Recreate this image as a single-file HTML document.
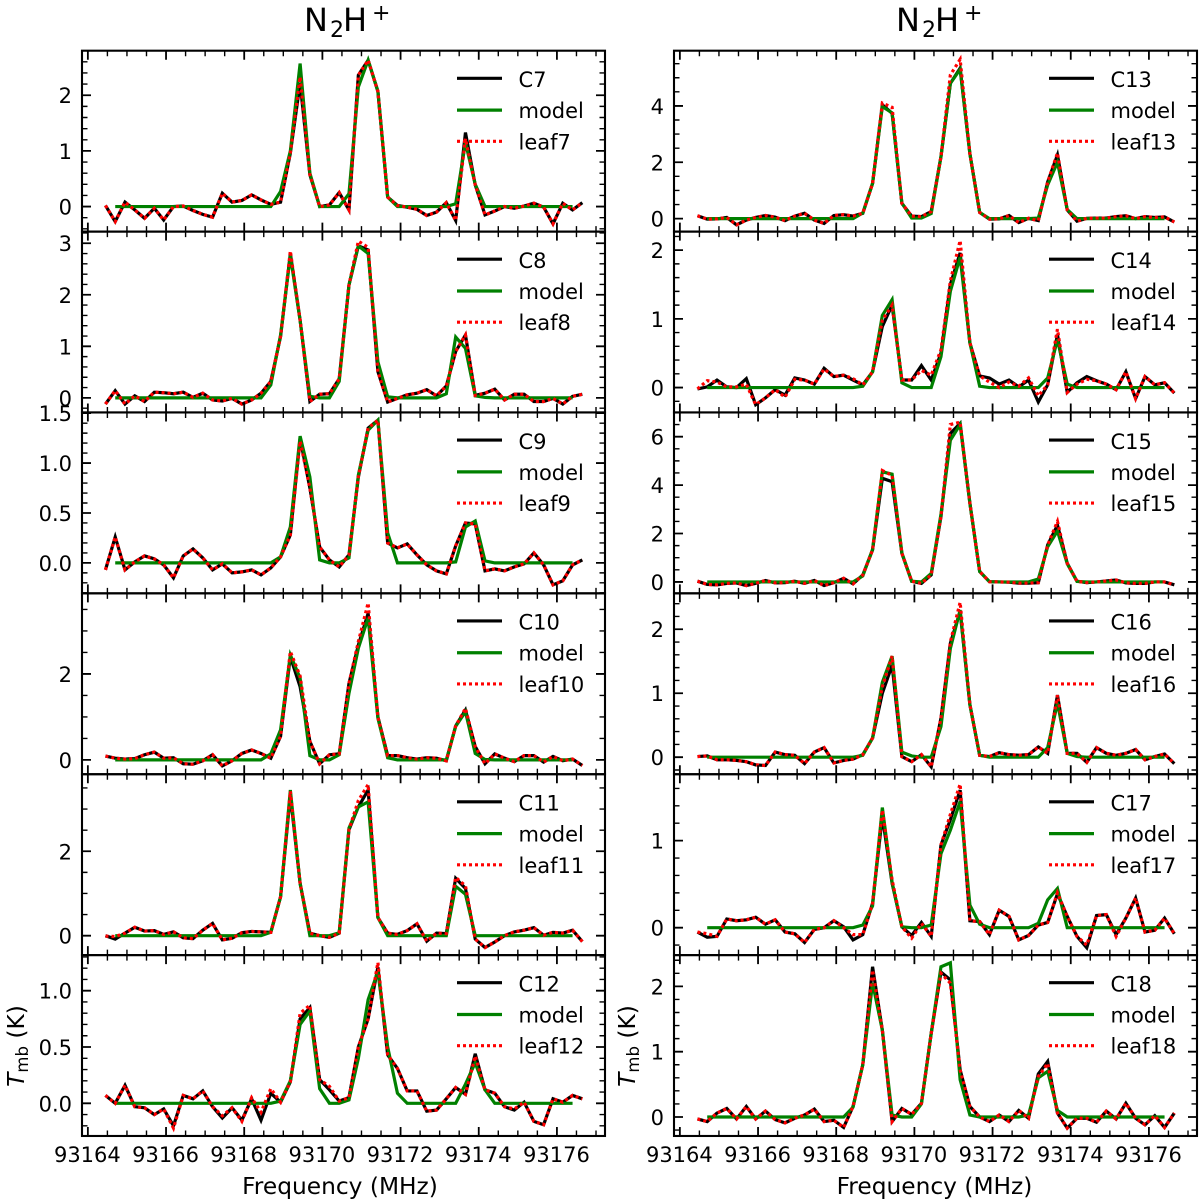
<!DOCTYPE html>
<html lang="en">
<head>
<meta charset="utf-8">
<title>N2H+ spectra</title>
<style>
html,body{margin:0;padding:0;background:#fff;}
svg{display:block;font-family:"DejaVu Sans","Liberation Sans",sans-serif;fill:#000;filter:blur(0.35px);}
</style>
</head>
<body>
<svg id="chart" xmlns="http://www.w3.org/2000/svg" width="1200" height="1204" viewBox="0 0 1200 1204">
  <rect x="0" y="0" width="1200" height="1204" fill="#fff"/>
  <text><tspan x="304" y="31" font-size="32">N</tspan><tspan x="330" y="37" font-size="22">2</tspan><tspan x="343" y="31" font-size="32">H</tspan><tspan x="372" y="20" font-size="22">+</tspan></text>
  <text><tspan x="896" y="31" font-size="32">N</tspan><tspan x="922" y="37" font-size="22">2</tspan><tspan x="935" y="31" font-size="32">H</tspan><tspan x="964" y="20" font-size="22">+</tspan></text>
  <text x="340" y="1194" font-size="23.3" text-anchor="middle">Frequency (MHz)</text>
  <text x="934.5" y="1194" font-size="23.3" text-anchor="middle">Frequency (MHz)</text>
  <text transform="translate(24,1046) rotate(-90)" font-size="23.3" text-anchor="middle"><tspan font-style="italic">T</tspan><tspan font-size="16.5" dy="4">mb</tspan><tspan dy="-4"> (K)</tspan></text>
  <text transform="translate(635,1046) rotate(-90)" font-size="23.3" text-anchor="middle"><tspan font-style="italic">T</tspan><tspan font-size="16.5" dy="4">mb</tspan><tspan dy="-4"> (K)</tspan></text>
</svg>
<script>
const freq = [93164.45,93164.70,93164.95,93165.20,93165.45,93165.70,93165.94,93166.19,93166.44,93166.69,
93166.94,93167.19,93167.44,93167.69,93167.94,93168.19,93168.43,93168.68,93168.93,93169.18,
93169.43,93169.68,93169.93,93170.18,93170.43,93170.68,93170.92,93171.17,93171.42,93171.67,
93171.92,93172.17,93172.42,93172.67,93172.92,93173.17,93173.41,93173.66,93173.91,93174.16,
93174.41,93174.66,93174.91,93175.16,93175.41,93175.66,93175.90,93176.15,93176.40,93176.65];

const xTickLabels = ['93164','93166','93168','93170','93172','93174','93176'];

const c7Obs = [.02,-.27,.08,-.06,-.21,-.03,-.24,0,.01,-.07,
-.14,-.19,.24,.08,.11,.21,.12,.04,.08,.96,
2.22,.57,0,.03,.25,-.06,2.36,2.63,2.07,.17,
.02,-.01,-.05,-.16,-.1,.07,-.25,1.33,.39,-.15,
-.08,0,-.03,.01,.06,-.01,-.31,.06,-.06,.07];
const c7Model = [null,0,0,0,0,0,0,0,0,0,
0,0,0,0,0,0,0,0,.27,1.0,
2.57,.6,0,0,0,.23,2.15,2.63,2.07,.17,
0,0,0,0,0,0,.05,1.15,.4,0,
0,0,0,0,0,0,0,0,0,null];
const c7Leaf = [.02,-.27,.08,-.06,-.21,-.03,-.24,0,.01,-.07,
-.14,-.19,.24,.08,.11,.21,.12,.04,.08,.96,
2.33,.57,0,.03,.25,-.06,2.36,2.63,2.07,.17,
.02,-.01,-.05,-.16,-.1,.07,-.25,1.22,.39,-.15,
-.08,0,-.03,.01,.06,-.01,-.31,.06,-.06,.07];

const c8Obs = [-.12,.14,-.12,.04,-.07,.11,.1,.08,.11,.01,
.09,-.04,-.06,-.01,-.12,-.04,.09,.32,1.19,2.8,
1.51,-.07,.07,.08,.37,2.19,2.95,2.87,.51,-.08,
-.01,.06,.09,.16,.04,.23,.9,1.22,.05,.09,
.17,-.04,.07,.07,-.07,-.07,-.01,-.12,.03,.07];
const c8Model = [null,0,0,0,0,0,0,0,0,0,
0,0,0,0,0,0,0,.25,1.22,2.76,
1.5,.03,0,0,.32,2.19,2.95,2.8,.7,.02,
0,0,0,0,0,.08,1.18,.96,.04,.01,
0,0,0,0,0,0,0,0,0,null];
const c8Leaf = [-.12,.14,-.12,.04,-.07,.11,.1,.08,.11,.01,
.09,-.04,-.06,-.01,-.12,-.04,.09,.32,1.19,2.85,
1.51,-.07,.07,.08,.37,2.19,3.04,2.92,.51,-.08,
-.01,.06,.09,.16,.04,.23,.9,1.22,.05,.09,
.17,-.04,.07,.07,-.07,-.07,-.01,-.12,.03,.07];

const c9Obs = [-.07,.26,-.07,.01,.07,.04,-.02,-.15,.07,.14,
.05,-.07,-.01,-.1,-.09,-.07,-.12,-.05,.06,.28,
1.25,.75,.16,.03,-.04,.08,.86,1.35,1.43,.2,
.15,.19,.08,-.02,-.08,-.11,.17,.4,.39,-.08,
-.06,-.08,-.04,-.01,.1,-.02,-.22,-.18,-.02,.03];
const c9Model = [null,0,0,0,0,0,0,0,0,0,
0,0,0,0,0,0,0,0,.06,.36,
1.27,.86,.03,0,0,.05,.88,1.33,1.43,.3,
0,0,0,0,0,0,.01,.36,.42,.02,
0,0,0,0,0,0,0,0,0,null];
const c9Leaf = [-.07,.26,-.07,.01,.07,.04,-.02,-.15,.07,.14,
.05,-.07,-.01,-.1,-.09,-.07,-.12,-.05,.06,.28,
1.22,.75,.16,.03,-.04,.08,.86,1.35,1.43,.2,
.15,.19,.08,-.02,-.08,-.11,.17,.4,.39,-.08,
-.06,-.08,-.04,-.01,.1,-.02,-.22,-.18,-.02,.03];

const c10Obs = [.09,.04,.02,.03,.12,.18,.04,.05,-.09,-.1,
-.02,.12,-.14,-.02,.15,.23,.15,.04,.55,2.4,
1.7,.43,-.09,.12,.14,1.78,2.67,3.41,1.0,.1,
.1,.05,.02,.05,.04,-.02,.79,1.16,.31,-.09,
.14,.04,-.04,.1,.1,-.05,.08,-.02,.02,-.13];
const c10Model = [null,0,0,0,0,0,0,0,0,0,
0,0,0,0,0,0,0,.14,.7,2.44,
1.9,.1,0,0,.12,1.55,2.6,3.3,.97,.05,
0,0,0,0,0,0,.78,1.12,.15,.01,
0,0,0,0,0,0,0,0,0,null];
const c10Leaf = [.09,.04,.02,.03,.12,.18,.04,.05,-.09,-.1,
-.02,.12,-.14,-.02,.15,.23,.15,.04,.55,2.52,
1.95,.43,-.09,.12,.14,1.78,2.75,3.65,1.0,.1,
.1,.05,.02,.05,.04,-.02,.79,1.2,.31,-.09,
.14,.04,-.04,.1,.1,-.05,.08,-.02,.02,-.13];

const c11Obs = [0,-.08,.06,.2,.11,.12,.03,.09,-.05,-.07,
.13,.29,-.1,-.06,.07,.1,.09,.08,.92,3.33,
1.24,.06,0,-.04,.06,2.51,3.05,3.45,.43,.06,
.03,.12,.28,-.13,.06,.05,1.36,1.12,-.08,-.28,
-.15,0,.09,.13,.19,.01,.08,.06,.13,-.14];
const c11Model = [null,0,0,0,0,0,0,0,0,0,
0,0,0,0,0,0,0,.08,.92,3.45,
1.24,0,0,0,.07,2.55,3.05,3.17,.43,0,
0,0,0,0,0,0,1.17,.98,0,0,
0,0,0,0,0,0,0,0,0,null];
const c11Leaf = [-.01,-.02,.06,.2,.11,.12,.03,.09,-.05,-.07,
.13,.29,-.1,-.06,.07,.1,.09,.08,.92,3.42,
1.24,.06,0,-.04,.06,2.51,3.2,3.58,.43,.06,
.03,.12,.28,-.13,.06,.05,1.38,1.18,-.08,-.28,
-.15,0,.09,.13,.19,.01,.08,.06,.13,-.14];

const c12Obs = [.07,0,.16,-.03,-.04,-.1,-.05,-.2,.07,.04,
.11,-.03,-.13,-.04,-.15,.04,-.15,.09,.01,.19,
.75,.85,.21,.12,.02,.05,.5,.75,1.21,.43,
.31,.11,.11,-.07,-.06,.04,.14,.08,.44,.12,
.09,-.03,-.06,.01,-.16,-.19,.04,.01,.07,.04];
const c12Model = [null,0,0,0,0,0,0,0,0,0,
0,0,0,0,0,0,0,0,.02,.2,
.7,.82,.13,0,0,.03,.4,.92,1.17,.5,
.09,0,0,0,0,0,0,.17,.36,.12,
0,0,0,0,0,0,0,0,0,null];
const c12Leaf = [.07,0,.16,-.03,-.04,-.1,-.05,-.22,.07,.04,
.11,-.03,-.11,-.04,-.16,.05,-.08,.13,.01,.19,
.8,.87,.21,.15,.02,.05,.5,.75,1.25,.43,
.31,.11,.11,-.07,-.06,.04,.14,.08,.42,.12,
.09,-.03,-.05,.01,-.16,-.19,.04,.01,.07,.04];

const c13Obs = [.1,-.02,-.01,.04,-.22,-.05,.04,.11,.05,-.07,
.09,.19,-.05,-.17,.11,.14,.09,.19,1.25,4.04,
3.74,.54,.09,.07,.25,2.2,4.8,5.34,2.3,.22,
-.02,-.01,.11,-.14,.01,-.07,1.3,2.26,.31,-.09,
.01,.02,.02,.07,.1,0,.07,.04,.06,-.12];
const c13Model = [null,0,0,0,0,0,0,0,0,0,
0,0,0,0,0,0,0,.2,1.25,3.98,
3.75,.55,.02,.02,.18,2.2,4.8,5.3,2.3,.22,
0,0,0,0,0,.02,1.2,2.0,.32,0,
0,0,0,0,0,0,0,0,0,null];
const c13Leaf = [.1,-.02,-.01,.04,-.22,-.05,.04,.11,.05,-.07,
.09,.19,-.05,-.17,.11,.14,.09,.19,1.25,4.1,
3.95,.54,.09,.07,.25,2.2,5.1,5.65,2.3,.22,
-.02,-.01,.11,-.14,.01,-.07,1.3,2.33,.31,-.09,
.01,.02,.02,.07,.1,0,.07,.04,.06,-.12];

const c14Obs = [-.02,.01,.11,.01,0,.13,-.25,-.15,-.03,-.11,
.14,.11,.05,.28,.16,.18,.11,.04,.23,.89,
1.2,.11,.11,.32,.11,.5,1.5,1.96,.65,.17,
.14,.05,.11,.01,.11,-.21,.04,.77,-.07,.07,
.16,.1,.05,-.03,.23,-.16,.16,.04,.07,-.08];
const c14Model = [null,0,0,0,0,0,0,0,0,0,
0,0,0,0,0,0,0,.02,.23,1.05,
1.28,.07,0,0,0,.45,1.4,1.9,.65,.02,
0,0,0,0,0,0,.14,.7,.05,0,
0,0,0,0,0,0,0,0,0,null];
const c14Leaf = [-.02,.1,.08,.01,.01,.05,-.25,-.15,-.03,-.14,
.12,.11,.05,.27,.16,.18,.13,.04,.23,.98,
1.2,.11,.11,.25,.18,.55,1.55,2.14,.65,.17,
.08,0,.08,.02,.14,-.12,.04,.85,-.07,.05,
.12,.1,.05,-.03,.23,-.16,.16,.04,.07,-.08];

const c15Obs = [.03,-.1,-.12,-.06,-.04,-.15,-.06,.06,-.04,-.03,
.03,-.06,.06,-.15,-.03,.15,-.08,.29,1.32,4.28,
4.14,1.18,.03,-.06,.29,2.7,6.13,6.55,3.25,.43,
.01,0,-.01,-.05,-.05,-.03,1.53,2.35,.77,.03,
-.03,0,.04,.08,-.04,-.06,-.06,0,0,-.12];
const c15Model = [null,0,0,0,0,0,0,0,0,0,
0,0,0,0,0,0,0,.25,1.35,4.55,
4.45,1.2,.03,0,.35,2.8,5.85,6.5,3.25,.43,
.01,0,0,0,0,.12,1.45,2.1,.75,.02,
0,0,0,0,0,0,0,0,0,null];
const c15Leaf = [.03,-.1,-.12,-.06,-.04,-.15,-.06,.06,-.04,-.03,
.03,-.06,.06,-.15,-.03,.15,-.08,.29,1.32,4.6,
4.4,1.18,.03,-.06,.29,2.7,6.5,6.6,3.25,.43,
.01,0,-.01,-.05,-.05,-.03,1.53,2.5,.77,.03,
-.03,0,.04,.08,-.04,-.06,-.06,0,0,-.12];

const c16Obs = [.01,.02,-.04,-.04,-.05,-.07,-.12,-.13,.08,.04,
.03,-.1,.08,.15,-.09,-.05,-.03,.04,.3,1.0,
1.44,.01,-.07,.04,-.15,.61,1.78,2.28,.82,.03,
.01,.07,.04,.03,.04,.16,.06,.97,.06,.06,
-.08,.15,.06,.03,.06,.12,-.04,.01,.05,-.1];
const c16Model = [null,0,0,0,0,0,0,0,0,0,
0,0,0,0,0,0,0,.03,.3,1.17,
1.58,.08,.02,0,0,.48,1.7,2.3,.82,.03,
0,0,0,0,0,0,.15,.85,.06,.01,
0,0,0,0,0,0,0,0,0,null];
const c16Leaf = [.01,.02,-.04,-.04,-.05,-.07,-.12,-.13,.08,.04,
.03,-.1,.08,.15,-.09,-.05,-.03,.04,.3,1.1,
1.58,.01,-.07,.04,-.15,.61,1.8,2.42,.82,.03,
.01,.07,.04,.03,.04,.16,.06,.97,.06,.06,
-.08,.15,.06,.03,.06,.12,-.04,.01,.05,-.1];

const c17Obs = [-.05,-.11,-.1,.1,.08,.09,.12,.04,.09,-.05,
-.07,-.17,-.02,0,.08,.01,-.14,-.08,.28,1.28,
.51,.01,-.09,.06,-.1,.95,1.24,1.58,.08,.07,
-.08,.2,.13,-.14,-.09,.03,.06,.39,.13,-.1,
-.23,.14,.15,-.08,.11,.34,-.05,-.03,.11,-.07];
const c17Model = [null,0,0,0,0,0,0,0,0,0,
0,0,0,0,0,0,0,.03,.25,1.38,
.52,.01,0,0,.03,.85,1.12,1.45,.26,.04,
0,0,0,0,0,.05,.32,.45,0,0,
0,0,0,0,0,0,0,0,0,null];
const c17Leaf = [-.05,-.07,-.1,.1,.08,.09,.12,.04,.09,-.05,
-.07,-.17,-.02,0,.08,0,-.08,-.08,.28,1.35,
.55,.01,-.12,.05,-.1,.95,1.3,1.65,.08,.07,
-.08,.2,.13,-.14,-.09,.03,.06,.4,.13,-.1,
-.2,.14,.15,-.1,.11,.34,-.05,-.03,.11,-.07];

const c18Obs = [-.03,-.07,.06,.13,-.03,.16,-.03,.09,-.04,-.09,
-.02,.03,.12,-.07,-.05,-.16,.16,.8,2.3,1.33,
-.07,.13,.04,.21,1.28,2.22,2.1,.72,.16,0,
-.07,.03,-.07,.1,-.02,.66,.85,.06,-.17,-.02,
-.02,-.08,.09,-.03,.21,-.02,-.12,.02,-.16,.06];
const c18Model = [null,0,0,0,0,0,0,0,0,0,
0,0,0,0,0,0,.15,.8,2.05,1.33,
.03,0,0,.2,1.28,2.3,2.36,.57,.03,0,
0,0,0,0,.03,.6,.7,.1,0,0,
0,0,0,0,0,0,0,0,0,null];
const c18Leaf = [-.03,-.07,.06,.13,-.03,.16,-.03,.09,-.04,-.09,
-.02,.03,.12,-.07,-.05,-.16,.16,.8,2.25,1.33,
-.07,.13,.04,.21,1.28,2.2,2.05,.72,.16,0,
-.07,.03,-.07,.1,-.02,.62,.82,.06,-.17,-.02,
-.02,-.08,.09,-.03,.21,-.02,-.12,.02,-.16,.06];

const obsSeries = [c7Obs,c8Obs,c9Obs,c10Obs,c11Obs,c12Obs,c13Obs,c14Obs,c15Obs,c16Obs,c17Obs,c18Obs];
const modelSeries = [c7Model,c8Model,c9Model,c10Model,c11Model,c12Model,c13Model,c14Model,c15Model,c16Model,c17Model,c18Model];
const leafSeries = [c7Leaf,c8Leaf,c9Leaf,c10Leaf,c11Leaf,c12Leaf,c13Leaf,c14Leaf,c15Leaf,c16Leaf,c17Leaf,c18Leaf];

const obsNames = ['C7','C8','C9','C10','C11','C12','C13','C14','C15','C16','C17','C18'];
const modelName = 'model';
const leafNames = ['leaf7','leaf8','leaf9','leaf10','leaf11','leaf12','leaf13','leaf14','leaf15','leaf16','leaf17','leaf18'];

const yMins = [-.449,-.283,-.305,-.333,-.46,-.29,-.46,-.362,-.471,-.266,-.315,-.291];
const yMaxs = [2.8,3.226,1.507,3.874,3.825,1.316,5.96,2.27,7.0,2.561,1.763,2.479];
const yTickLabels = [
  ['0','1','2'],
  ['0','1','2','3'],
  ['0.0','0.5','1.0','1.5'],
  ['0','2'],
  ['0','2'],
  ['0.0','0.5','1.0'],
  ['0','2','4'],
  ['0','1','2'],
  ['0','2','4','6'],
  ['0','1','2'],
  ['0','1'],
  ['0','1','2']
];

const NS = 'http://www.w3.org/2000/svg';
const root = document.getElementById('chart');
const PANEL_TOP = 50.7;
const PANEL_H = 180.88;
const COL_LEFT = [82, 674];
const AX_W = 523;
const X_MIN = 93163.85;
const X_MAX = 93177.23;

function make(tag, parent, attrs, text) {
  const el = document.createElementNS(NS, tag);
  for (const k in attrs) el.setAttribute(k, attrs[k]);
  if (text !== undefined) el.textContent = text;
  parent.appendChild(el);
  return el;
}
function xScale(col, f) {
  return COL_LEFT[col] + (f - X_MIN) / (X_MAX - X_MIN) * AX_W;
}
function yScale(panel, v) {
  const row = panel % 6;
  const top = PANEL_TOP + row * PANEL_H;
  return top + (yMaxs[panel] - v) / (yMaxs[panel] - yMins[panel]) * PANEL_H;
}
function linePath(col, panel, values) {
  let d = '';
  values.forEach(function (v, i) {
    if (v === null) return;
    d += (d ? 'L' : 'M') + xScale(col, freq[i]).toFixed(2) + ' ' + yScale(panel, v).toFixed(2);
  });
  return d;
}
function minorDivs(step) {
  const m = step / Math.pow(10, Math.floor(Math.log10(step) + 1e-9));
  return (Math.abs(m - 1) < 1e-6 || Math.abs(m - 5) < 1e-6) ? 5 : 4;
}

const MAJ = 9, MIN = 5.5;
const LINE_W = 3.2;

obsNames.forEach(function (name, p) {
  const col = p < 6 ? 0 : 1;
  const row = p % 6;
  const L = COL_LEFT[col], R = L + AX_W;
  const T = PANEL_TOP + row * PANEL_H, B = T + PANEL_H;
  const g = make('g', root, {});
  
  

  const obs = make('path', g, {d: linePath(col, p, obsSeries[p]), fill: 'none', stroke: '#000', 'stroke-width': LINE_W, 'stroke-linejoin': 'miter'});
  
  

  const mdl = make('path', g, {d: linePath(col, p, modelSeries[p]), fill: 'none', stroke: '#008000', 'stroke-width': LINE_W});
  
  

  const leaf = make('path', g, {d: linePath(col, p, leafSeries[p]), fill: 'none', stroke: '#f00', 'stroke-width': LINE_W, 'stroke-dasharray': '3 3'});
  
  

  // x ticks
  let dMaj = '', dMin = '';
  xTickLabels.forEach(function (t) {
    const x = xScale(col, Number(t));
    dMaj += 'M' + x + ' ' + B + 'V' + (B - MAJ) + 'M' + x + ' ' + T + 'V' + (T + MAJ);
  });
  for (let f = Math.ceil(X_MIN * 2) / 2; f <= X_MAX; f += 0.5) {
    if (f % 2 === 0) continue;
    const x = xScale(col, f);
    dMin += 'M' + x + ' ' + B + 'V' + (B - MIN) + 'M' + x + ' ' + T + 'V' + (T + MIN);
  }
  // y ticks
  const majors = yTickLabels[p].map(Number);
  const step = majors[1] - majors[0];
  const minorStep = step / minorDivs(step);
  majors.forEach(function (v) {
    const y = yScale(p, v);
    dMaj += 'M' + L + ' ' + y + 'H' + (L + MAJ) + 'M' + R + ' ' + y + 'H' + (R - MAJ);
  });
  const kLo = Math.ceil(yMins[p] / minorStep), kHi = Math.floor(yMaxs[p] / minorStep);
  for (let k = kLo; k <= kHi; k++) {
    const v = k * minorStep;
    if (majors.some(function (m) { return Math.abs(m - v) < 1e-6; })) continue;
    const y = yScale(p, v);
    dMin += 'M' + L + ' ' + y + 'H' + (L + MIN) + 'M' + R + ' ' + y + 'H' + (R - MIN);
  }
  const majorTicks = make('path', g, {d: dMaj, fill: 'none', stroke: '#000', 'stroke-width': 1.8});
  
  
  const minorTicks = make('path', g, {d: dMin, fill: 'none', stroke: '#000', 'stroke-width': 1.4});
  
  

  const frame = make('rect', g, {x: L, y: T, width: AX_W, height: PANEL_H, fill: 'none', stroke: '#000', 'stroke-width': 2.1});
  
  

  // y tick labels
  yTickLabels[p].forEach(function (t) {
    const lab = make('text', g, {x: L - 10, y: yScale(p, Number(t)) + 8, 'font-size': 21, 'text-anchor': 'end'}, t);
    
    
  });
  // x tick labels on the bottom row only
  if (row === 5) {
    xTickLabels.forEach(function (t) {
      const lab = make('text', g, {x: xScale(col, Number(t)) - 0.5, y: 1162, 'font-size': 21, 'text-anchor': 'middle'}, t);
      
      
    });
  }

  // legend
  const lg = make('g', g, {});
  
  
  const lx1 = L + 375, lx2 = L + 420, tx = L + 436.5;
  const ly = [T + 27.6, T + 59.4, T + 90.6];

  const k1 = make('line', lg, {x1: lx1, x2: lx2, y1: ly[0], y2: ly[0], stroke: '#000', 'stroke-width': LINE_W});
  
  
  const t1 = make('text', lg, {x: tx, y: ly[0] + 8.8, 'font-size': 21}, name);
  
  

  const k2 = make('line', lg, {x1: lx1, x2: lx2, y1: ly[1], y2: ly[1], stroke: '#008000', 'stroke-width': LINE_W});
  
  
  const t2 = make('text', lg, {x: tx, y: ly[1] + 8, 'font-size': 21}, modelName);
  
  

  const k3 = make('line', lg, {x1: lx1, x2: lx2, y1: ly[2], y2: ly[2], stroke: '#f00', 'stroke-width': LINE_W, 'stroke-dasharray': '3 3'});
  
  
  const t3 = make('text', lg, {x: tx, y: ly[2] + 8, 'font-size': 21}, leafNames[p]);
  
  
});
</script>
</body>
</html>
